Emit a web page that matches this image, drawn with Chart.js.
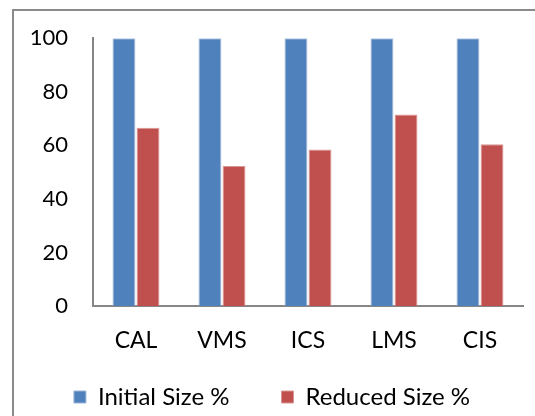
<!DOCTYPE html>
<html>
<head>
<meta charset="utf-8">
<script src="https://cdn.jsdelivr.net/npm/chart.js@4/dist/chart.umd.min.js"></script>
<style>
  html, body { margin: 0; padding: 0; background: #fff; overflow: hidden; }
  #frame {
    position: absolute; left: 12px; top: 9px; width: 560px; height: 450px;
    border-left: 2px solid #8a8a8a; border-top: 2px solid #8a8a8a;
  }
  #wrap { position: absolute; left: 0; top: 0; width: 535px; height: 416px; }
</style>
</head>
<body>
<div id="frame"></div>
<div id="wrap"><canvas id="sizeChart"></canvas></div>
<script>
// data
const categories = ["CAL", "VMS", "ICS", "LMS", "CIS"];
const initialSize = [100, 100, 100, 100, 100];
const reducedSize = [66.6, 52.3, 58.4, 71.5, 60.4];
const yTicks = [0, 20, 40, 60, 80, 100];

const fontFamily = "Lato, 'Open Sans', sans-serif";
const tickFont = { family: fontFamily, size: 22 };
const labelFont = { family: fontFamily, size: 23 };
const legendFont = { family: fontFamily, size: 24 };
const axisGray = '#868686';

const ctx = document.getElementById('sizeChart').getContext('2d');
new Chart(ctx, {
  type: 'bar',
  data: {
    labels: categories,
    datasets: [
      {
        label: 'Initial Size %',
        data: initialSize,
        backgroundColor: '#4F81BD',
        borderColor: '#9db6d8',
        borderWidth: 1,
        categoryPercentage: 0.56,
        barPercentage: 0.95
      },
      {
        label: 'Reduced Size %',
        data: reducedSize,
        backgroundColor: '#C0504D',
        borderColor: '#d99694',
        borderWidth: 1,
        categoryPercentage: 0.56,
        barPercentage: 0.95
      }
    ]
  },
  options: {
    responsive: true,
    maintainAspectRatio: false,
    animation: false,
    layout: { padding: { left: 21, right: 12, top: 37, bottom: -3 } },
    plugins: {
      tooltip: { enabled: false },
      legend: {
        position: 'bottom',
        // empty title with negative padding: lets the item gap be wide
        // without pushing the row down
        title: {
          display: true,
          text: ' ',
          font: { size: 1 },
          padding: { top: -11.6, bottom: -11.6 }
        },
        labels: {
          boxWidth: 12,
          boxHeight: 12,
          padding: 52,
          color: '#000',
          font: legendFont
        }
      }
    },
    scales: {
      x: {
        grid: { display: false, drawTicks: false },
        border: { display: true, color: axisGray, width: 2 },
        ticks: { color: '#000', font: labelFont, padding: 21, maxRotation: 0 },
        afterFit: (scale) => { scale.height = 49; }
      },
      y: {
        min: 0,
        max: 100,
        afterBuildTicks: (scale) => { scale.ticks = yTicks.map(v => ({ value: v })); },
        grid: { display: false, drawTicks: false },
        border: { display: true, color: axisGray, width: 2 },
        ticks: { color: '#000', font: tickFont, padding: 25 },
        afterFit: (scale) => { scale.width = 72; }
      }
    }
  }
});
</script>
</body>
</html>
